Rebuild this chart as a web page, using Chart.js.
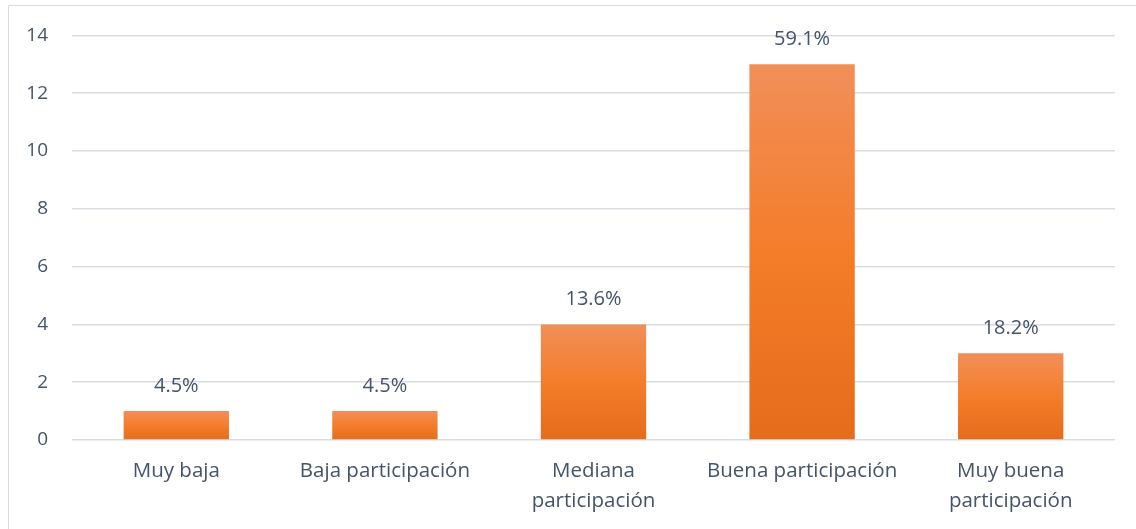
<!DOCTYPE html>
<html>
<head>
<meta charset="utf-8">
<script src="https://cdn.jsdelivr.net/npm/chart.js@4"></script>
<style>
  html, body { margin: 0; padding: 0; background: #fff; }
  #wrap { width: 1136px; height: 529px; position: relative; }
</style>
</head>
<body>
<div id="wrap"><canvas id="chart"></canvas></div>
<script>
let categories = ["Muy baja", "Baja participación", ["Mediana", "participación"], "Buena participación", ["Muy buena", "participación"]];
let counts = [1, 1, 4, 13, 3];
let percentLabels = ["4.5%", "4.5%", "13.6%", "59.1%", "18.2%"];
let yTicks = [0, 2, 4, 6, 8, 10, 12, 14];

let textColor = "#44546A";
let fontFamily = "'Open Sans', sans-serif";

// border of the chart frame (only top and left show in the picture)
let framePlugin = {
    id: "frame",
    beforeDraw(chart) {
        let c = chart.ctx;
        c.save();
        c.strokeStyle = "#D9D9D9";
        c.lineWidth = 1;
        c.beginPath();
        c.moveTo(8.5, 529);
        c.lineTo(8.5, 5.5);
        c.lineTo(1136, 5.5);
        c.stroke();
        c.restore();
    }
};

// percentages above the bars
let labelPlugin = {
    id: "percentLabels",
    afterDatasetsDraw(chart) {
        let c = chart.ctx;
        let meta = chart.getDatasetMeta(0);
        c.save();
        c.fillStyle = textColor;
        c.font = "20px " + fontFamily;
        c.textAlign = "center";
        c.textBaseline = "middle";
        meta.data.forEach((bar, i) => {
            c.fillText(percentLabels[i], bar.x, bar.y - 25);
        });
        c.restore();
    }
};

function barGradient(context) {
    let chart = context.chart;
    if (!chart.chartArea) return "#F47D2A";
    let y = chart.scales.y;
    let top = y.getPixelForValue(context.raw);
    let bottom = y.getPixelForValue(0);
    let g = chart.ctx.createLinearGradient(0, top, 0, bottom);
    g.addColorStop(0, "#F18F59");
    g.addColorStop(0.5, "#F47D2A");
    g.addColorStop(1, "#E46C1A");
    return g;
}

new Chart(document.getElementById("chart"), {
    type: "bar",
    data: {
        labels: categories,
        datasets: [{
            data: counts,
            backgroundColor: barGradient,
            barPercentage: 0.505,
            categoryPercentage: 1
        }]
    },
    options: {
        responsive: true,
        maintainAspectRatio: false,
        animation: false,
        layout: { padding: { left: 0, right: 21, top: 34, bottom: 0 } },
        plugins: {
            legend: { display: false },
            tooltip: { enabled: false }
        },
        scales: {
            x: {
                grid: { display: false, drawTicks: false },
                border: { display: false },
                ticks: {
                    color: textColor,
                    font: { family: fontFamily, size: 20.5, lineHeight: 1.42 },
                    padding: 17,
                    maxRotation: 0,
                    autoSkip: false
                },
                afterFit(axis) { axis.height = 529 - 440; }
            },
            y: {
                min: 0,
                max: 14,
                afterBuildTicks(axis) { axis.ticks = yTicks.map(v => ({ value: v })); },
                grid: { color: "#D9DDE3", lineWidth: 1.5, drawTicks: false },
                border: { display: false },
                ticks: {
                    color: textColor,
                    font: { family: fontFamily, size: 19 },
                    padding: 24
                },
                afterFit(axis) { axis.width = 72; }
            }
        }
    },
    plugins: [framePlugin, labelPlugin]
});
</script>
</body>
</html>
